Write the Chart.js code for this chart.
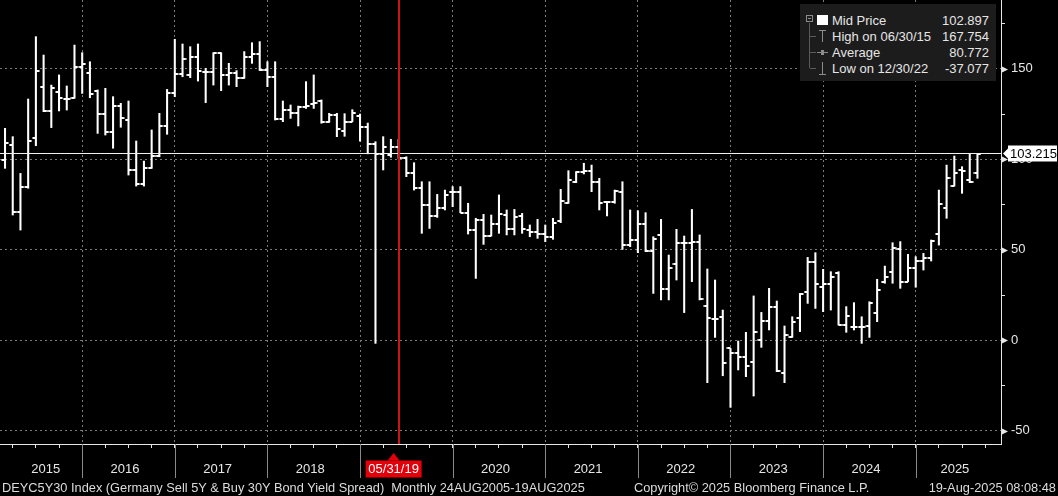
<!DOCTYPE html>
<html lang="en">
<head>
<meta charset="UTF-8">
<title>DEYC5Y30 Index</title>
<style>
  body { margin: 0; background: #000; }
  #wrap { position: relative; width: 1058px; height: 496px; background: #000; overflow: hidden;
          font-family: "Liberation Sans", Arial, sans-serif; color: #e6e6e6; }
  canvas { position: absolute; left: 0; top: 0; }
  #legend { position: absolute; left: 800px; top: 4px; width: 196px; height: 77px; background: #1c1c1c; font-size: 13px; }
  #legend .row { position: absolute; left: 32px; right: 7px; height: 16px; line-height: 16px; white-space: nowrap; }
  #legend .row .v { position: absolute; right: 0; top: 0; }
  #legend .ic { position: absolute; background: #8c8c8c; }
  .foot { position: absolute; top: 480px; font-size: 12.8px; line-height: 16px; white-space: pre; color: #dcdcdc; }
</style>
<script src="https://cdn.jsdelivr.net/npm/chart.js"></script>
</head>
<body>
<div id="wrap">
  <canvas id="chart" width="1058" height="496"></canvas>
  <div id="legend">
    <div class="ic" style="left:6px;top:11px;width:7px;height:7px;background:none;border:1px solid #8c8c8c;box-sizing:border-box"></div>
    <div class="ic" style="left:8px;top:14px;width:3px;height:1px"></div>
    <div class="ic" style="left:9px;top:19px;width:1px;height:45px;background:#5a5a5a"></div>
    <div class="ic" style="left:10px;top:32px;width:6px;height:1px;background:#5a5a5a"></div>
    <div class="ic" style="left:10px;top:48px;width:6px;height:1px;background:#5a5a5a"></div>
    <div class="ic" style="left:10px;top:64px;width:6px;height:1px;background:#5a5a5a"></div>
    <div class="ic" style="left:17px;top:11px;width:11px;height:10px;background:#fff"></div>
    <div class="ic" style="left:19px;top:26px;width:7px;height:1px"></div>
    <div class="ic" style="left:22px;top:26px;width:1px;height:12px"></div>
    <div class="ic" style="left:17px;top:48px;width:11px;height:1px"></div>
    <div class="ic" style="left:21px;top:46px;width:3px;height:5px"></div>
    <div class="ic" style="left:22px;top:58px;width:1px;height:12px"></div>
    <div class="ic" style="left:19px;top:70px;width:7px;height:1px"></div>
    <div class="row" style="top:9px">Mid Price<span class="v" id="lgMid"></span></div>
    <div class="row" style="top:25px">High on 06/30/15<span class="v" id="lgHigh"></span></div>
    <div class="row" style="top:41px">Average<span class="v" id="lgAvg"></span></div>
    <div class="row" style="top:57px">Low on 12/30/22<span class="v" id="lgLow"></span></div>
  </div>
  <div class="foot" style="left:2px">DEYC5Y30 Index (Germany Sell 5Y &amp; Buy 30Y Bond Yield Spread)  Monthly 24AUG2005-19AUG2025</div>
  <div class="foot" style="left:634px">Copyright© 2025 Bloomberg Finance L.P.</div>
  <div class="foot" style="right:2px">19-Aug-2025 08:08:48</div>
</div>

<script>
// monthly OHLC bars (month end)
const months = [
  '2015-02','2015-03','2015-04','2015-05','2015-06','2015-07','2015-08','2015-09','2015-10','2015-11','2015-12',
  '2016-01','2016-02','2016-03','2016-04','2016-05','2016-06','2016-07','2016-08','2016-09','2016-10','2016-11','2016-12',
  '2017-01','2017-02','2017-03','2017-04','2017-05','2017-06','2017-07','2017-08','2017-09','2017-10','2017-11','2017-12',
  '2018-01','2018-02','2018-03','2018-04','2018-05','2018-06','2018-07','2018-08','2018-09','2018-10','2018-11','2018-12',
  '2019-01','2019-02','2019-03','2019-04','2019-05','2019-06','2019-07','2019-08','2019-09','2019-10','2019-11','2019-12',
  '2020-01','2020-02','2020-03','2020-04','2020-05','2020-06','2020-07','2020-08','2020-09','2020-10','2020-11','2020-12',
  '2021-01','2021-02','2021-03','2021-04','2021-05','2021-06','2021-07','2021-08','2021-09','2021-10','2021-11','2021-12',
  '2022-01','2022-02','2022-03','2022-04','2022-05','2022-06','2022-07','2022-08','2022-09','2022-10','2022-11','2022-12',
  '2023-01','2023-02','2023-03','2023-04','2023-05','2023-06','2023-07','2023-08','2023-09','2023-10','2023-11','2023-12',
  '2024-01','2024-02','2024-03','2024-04','2024-05','2024-06','2024-07','2024-08','2024-09','2024-10','2024-11','2024-12',
  '2025-01','2025-02','2025-03','2025-04','2025-05','2025-06','2025-07','2025-08'
];
const openV = [
  99.6,107.9,70.7,84.9,111.6,139.7,126.7,137.4,133.1,134,150.8,
  147.9,137.9,124.8,114.9,129.4,121.7,94.1,86.2,95.4,101.8,118.6,136.4,
  146.9,146.6,156.3,148.4,148,158.5,146.6,147.5,144.7,156.3,158.2,149.3,
  145.3,122.1,127.2,125.4,129.1,130.5,132.2,120.8,124.5,115.5,120.8,124,
  118,108.3,102.9,102.4,107,100.5,92.6,84,74.7,68.7,72.9,81.7,
  82.1,70.5,60.9,66.5,57.6,64.2,69.2,61.3,68.5,60.9,60,58.5,
  56.9,66,75.7,87.6,93.2,93.5,87.6,76.6,76.6,82.1,52.6,55.4,
  64,49.3,58.2,28.1,42,53.6,53.9,54.5,18.9,11.7,12.7,-4.5,
  -6.8,-9.1,-11.8,0.2,10.7,18.2,-18.3,2,12.1,26.9,43.4,29.3,
  30.9,37.4,8.4,7.1,7.1,7.9,15.3,32,37.9,50.2,32.4,39.7,
  43.8,45.3,58.7,72.9,85.2,94.1,88.6,92.2
];
const highV = [
  117.1,112.5,92.2,133.3,167.75,157.6,141,146.6,140.5,163.1,158.9,
  153.9,138.3,139.2,134.6,130.9,132.2,110.1,99,116.2,125.4,138.6,166.3,
  163.7,162.2,163.7,150.2,158.9,158.9,153,149,159.5,164.4,165,153.9,
  153.9,132.2,130,129.4,142.9,146.6,132.8,125.4,125.4,125.2,127.4,125,
  120,109.7,112.5,111,111,101.4,98.1,87.6,87.6,80.6,83,84.9,
  84.9,75.7,67.4,69.6,69.2,80.3,72,72.3,70.1,63.7,66.8,63.7,
  67.4,83.4,93.7,93.2,97.8,96.8,89.5,76.6,83,87.6,72,71.6,
  70.5,57.2,66.8,47.1,61.3,57.6,72.3,58.2,39.4,33.3,16.7,-4.5,
  -0.4,4.4,24.5,15.4,28.7,21.7,7.9,13,25.9,45.8,48.4,39.2,
  37.9,37.9,18.6,20.8,13,21.3,33.7,41,53.9,54.5,47.5,46.2,
  48,55.4,83,96.8,101.8,95.9,102.9,102.9
];
const lowV = [
  95,69.2,60.9,84,107.5,126.3,117.5,126.7,127.2,133.7,136.4,
  134,114.3,113.4,106.1,117.7,91.3,85.2,85.2,95,101.4,113.8,134.6,
  145.6,145.1,143.2,131.3,141,137.9,141,140.1,144.7,153,149,140.1,
  121.7,120.8,122.6,118.4,128.1,128.1,119.9,120.4,112.5,112.7,120.8,110,
  103,-1.7,94.1,101.1,100.5,90.4,83,59.1,61.8,67.9,72,73.8,
  70.5,58.7,34.2,53,57.6,59.1,58.2,58.2,59.1,57.2,56.3,54.5,
  55.8,65,75.7,87.1,91.9,82.1,72,68.7,75.7,50.2,51.7,48.4,
  49,25.9,22.3,22.3,33.3,15.3,32.4,22.3,-23.4,1.6,-19.6,-37.08,
  -16.4,-20.1,-30.8,-3.9,5.7,-17.3,-23.4,1.6,4.8,20.4,17.6,15.8,
  16.7,8.4,4.4,5.7,-1.7,1.6,10.3,31.5,31.5,28.7,32.4,29.3,
  38.8,43.8,52.6,67.4,85.2,81.2,87.1,89.5
];
const closeV = [
  109.2,70.7,84.9,110.3,149,126.9,139.2,133.7,133.3,150.8,152.6,
  135.9,124.8,114.9,129.4,122.6,94.1,86.2,95.4,101.8,118.6,136.4,146.9,
  155.2,156.3,148.8,148,158.5,146.6,147.9,144.7,156.3,158.2,149.3,145.3,
  122.1,127.2,125.4,129.1,129.4,131.3,120.8,124.5,116.5,120.8,125.6,118,
  108.3,102.9,107,107,100.5,92.6,84,74.7,68.7,72.9,80,82.1,
  70.5,60.9,66.5,57.6,64.2,69.6,61.3,68,61.3,60,58.5,56.9,
  64.6,77,88.6,93.2,93.5,87.6,75.7,76.6,82.7,52.6,55.4,64,
  49.3,56,28.1,40.1,53.6,53.9,54.5,22.6,12.1,11.7,-12.7,-6.8,
  -9.1,-14,4.4,10.7,18.2,-17,2.9,10.3,25.4,43.4,30.9,30.9,
  35.1,8.4,13.4,7.1,7.5,20.8,27.8,35.1,50.8,32.4,39.7,43.8,
  45.3,55,75.3,89.5,92.2,93.7,87.6,102.9
];
const years = ['2015','2016','2017','2018','2019','2020','2021','2022','2023','2024','2025'];
const yTickValues = [-50, -25, 0, 25, 50, 75, 100, 125, 150, 175];

const lastPrice = 103.215;
const midPrice = 102.897;
const highPrice = 167.754;
const avgPrice = 80.772;
const lowPrice = -37.077;
const markerMonth = '2019-05';
const markerLabel = '05/31/19';

const FONT = '"Liberation Sans", Arial, sans-serif';
const TEXT = '#e6e6e6';
const GRID = '#7a7a7a';

document.getElementById('lgMid').textContent = midPrice.toFixed(3);
document.getElementById('lgHigh').textContent = highPrice.toFixed(3);
document.getElementById('lgAvg').textContent = avgPrice.toFixed(3);
document.getElementById('lgLow').textContent = lowPrice.toFixed(3);

// month number on the x axis, Dec 2015 = 12
function monthIndex(m) {
  const [yy, mm] = m.split('-').map(Number);
  return (yy - 2015) * 12 + mm;
}

const xMin = 1.35, xMax = 131.05;

// quarter tick marks, plus one label tick per year
const xTicks = [];
for (let q = 3; q < xMax; q += 3) xTicks.push(q);
const yearAt = new Map();
const markerYear = markerMonth.slice(0, 4);
years.forEach((yr, k) => {
  const lo = Math.max(k * 12, xMin), hi = Math.min(k * 12 + 12, xMax);
  const pos = (lo + hi) / 2 - (k === 0 ? -0.6 : 0.45);
  yearAt.set(pos, yr === markerYear ? '' : yr);
  xTicks.push(pos);
});
xTicks.sort((a, b) => a - b);

function tickMark(side) {
  const c = document.createElement('canvas');
  c.width = 8; c.height = 2;
  const g = c.getContext('2d');
  g.fillStyle = '#fff';
  g.fillRect(side < 0 ? 0.5 : 4, 0, 3.5, 2);
  return c;
}

const xs = months.map(monthIndex);

const decor = {
  id: 'decor',
  afterDatasetsDraw(chart) {
    const {ctx, chartArea: a, scales: {x, y}} = chart;
    ctx.save();
    ctx.setLineDash([]);
    ctx.lineWidth = 1;
    const py = Math.round(y.getPixelForValue(lastPrice)) + 0.5;
    ctx.strokeStyle = '#f0f0f0';
    ctx.beginPath(); ctx.moveTo(a.left, py); ctx.lineTo(a.right, py); ctx.stroke();
    const mx = Math.round(x.getPixelForValue(monthIndex(markerMonth)));
    ctx.lineWidth = 2;
    ctx.strokeStyle = 'rgb(205, 20, 20)';
    ctx.beginPath(); ctx.moveTo(mx, a.top); ctx.lineTo(mx, a.bottom); ctx.stroke();
    ctx.restore();
  },
  afterDraw(chart) {
    const {ctx, chartArea: a, scales: {x, y}} = chart;
    ctx.save();
    // year separators below the axis
    ctx.strokeStyle = '#8a8a8a';
    ctx.lineWidth = 1;
    for (let k = 1; k < years.length; k++) {
      const sx = Math.round(x.getPixelForValue(k * 12)) + 0.5;
      ctx.beginPath(); ctx.moveTo(sx, a.bottom); ctx.lineTo(sx, a.bottom + 34); ctx.stroke();
    }
    // arrow heads on the labelled y ticks
    ctx.fillStyle = TEXT;
    yTickValues.filter(v => v % 50 === 0).forEach(v => {
      const ty = Math.round(y.getPixelForValue(v)) + 0.5;
      ctx.beginPath();
      ctx.moveTo(a.right, ty - 3.5); ctx.lineTo(a.right + 7, ty); ctx.lineTo(a.right, ty + 3.5);
      ctx.closePath(); ctx.fill();
    });
    // last price tag
    const py = Math.round(y.getPixelForValue(lastPrice)) + 0.5;
    ctx.fillStyle = '#fff';
    ctx.fillRect(a.right + 7, py - 8, 49, 16);
    ctx.beginPath();
    ctx.moveTo(a.right + 2, py); ctx.lineTo(a.right + 7, py - 5); ctx.lineTo(a.right + 7, py + 5);
    ctx.closePath(); ctx.fill();
    ctx.fillStyle = '#000';
    ctx.font = '13px ' + FONT;
    ctx.textBaseline = 'middle';
    ctx.textAlign = 'left';
    ctx.fillText(lastPrice.toFixed(3), a.right + 9, py + 1);
    // marker date tag
    const lx = x.getPixelForValue(monthIndex(markerMonth)) - 5;
    ctx.fillStyle = '#e3000b';
    ctx.fillRect(lx - 28, a.bottom + 16.5, 56, 17);
    ctx.beginPath();
    ctx.moveTo(lx - 6, a.bottom + 16.5); ctx.lineTo(lx, a.bottom + 9); ctx.lineTo(lx + 6, a.bottom + 16.5);
    ctx.closePath(); ctx.fill();
    ctx.fillStyle = '#fff';
    ctx.textAlign = 'center';
    ctx.fillText(markerLabel, lx, a.bottom + 25.5);
    ctx.restore();
  }
};

new Chart(document.getElementById('chart'), {
  type: 'bar',
  data: {
    datasets: [
      {
        type: 'bar',
        data: xs.map((v, k) => ({x: v, y: [lowV[k], highV[k]]})),
        backgroundColor: '#ffffff',
        barThickness: 1.4,
        borderWidth: 0
      },
      {
        type: 'line',
        data: xs.map((v, k) => ({x: v, y: openV[k]})),
        showLine: false,
        pointStyle: tickMark(-1),
        pointRadius: 3,
        pointHoverRadius: 3
      },
      {
        type: 'line',
        data: xs.map((v, k) => ({x: v, y: closeV[k]})),
        showLine: false,
        pointStyle: tickMark(1),
        pointRadius: 3,
        pointHoverRadius: 3
      }
    ]
  },
  options: {
    responsive: false,
    animation: false,
    events: [],
    layout: { padding: 0, autoPadding: false },
    plugins: { legend: { display: false }, tooltip: { enabled: false } },
    scales: {
      x: {
        type: 'linear',
        min: xMin,
        max: xMax,
        offset: false,
        afterBuildTicks: s => { s.ticks = xTicks.map(v => ({value: v})); },
        afterFit: s => { s.height = 52; s.paddingLeft = 0; s.paddingRight = 0; },
        grid: {
          offset: false,
          color: c => (c.tick && c.tick.value % 12 === 0) ? GRID : 'rgba(0,0,0,0)',
          tickColor: c => (c.tick && Number.isInteger(c.tick.value)) ? TEXT : 'rgba(0,0,0,0)',
          tickLength: 4
        },
        border: { color: TEXT, dash: [2, 3] },
        ticks: {
          autoSkip: false, maxRotation: 0, minRotation: 0, padding: 14,
          color: TEXT, font: { family: FONT, size: 13 },
          callback: v => yearAt.get(v) || ''
        }
      },
      y: {
        position: 'right',
        min: -57.3,
        max: 188,
        afterBuildTicks: s => { s.ticks = yTickValues.map(v => ({value: v})); },
        afterFit: s => { s.width = 57; s.paddingTop = 0; s.paddingBottom = 0; },
        grid: {
          color: c => (c.tick && c.tick.value % 50 === 0) ? GRID : 'rgba(0,0,0,0)',
          tickColor: TEXT,
          tickLength: 4
        },
        border: { color: TEXT, dash: [2, 3] },
        ticks: {
          padding: 6, color: TEXT, font: { family: FONT, size: 13 },
          callback: v => v % 50 === 0 ? String(v) : ''
        }
      }
    }
  },
  plugins: [decor]
});
</script>
</body>
</html>
